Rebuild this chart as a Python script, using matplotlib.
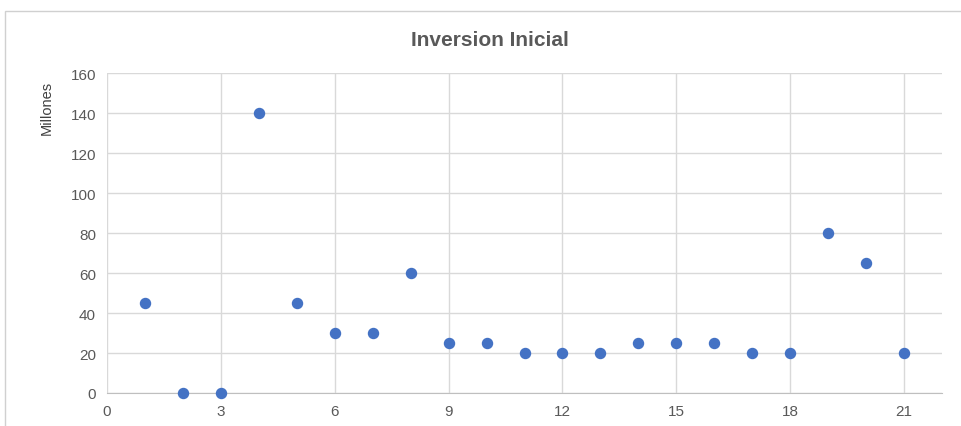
import numpy as np
import matplotlib.pyplot as plt
from matplotlib.patches import Rectangle

periodo = [1, 2, 3, 4, 5, 6, 7, 8, 9, 10, 11, 12, 13, 14, 15, 16, 17, 18, 19, 20, 21]
inversion = [45, 0, 0, 140, 45, 30, 30, 60, 25, 25, 20, 20, 20, 25, 25, 25, 20, 20, 80, 65, 20]
x_ticks = [0, 3, 6, 9, 12, 15, 18, 21]
y_ticks = [0, 20, 40, 60, 80, 100, 120, 140, 160]

plt.rcParams['font.family'] = ['Liberation Sans', 'DejaVu Sans']

fig = plt.figure(figsize=(9.61, 4.27), dpi=100)
# marco del grafico
fig.patches.append(Rectangle((5 / 961, -0.01), 1.0, 1 - 12 / 427 + 0.01, transform=fig.transFigure,
                             fill=False, edgecolor='#d0d0d0', linewidth=1))

ax = fig.add_axes([107 / 961, 1 - 394 / 427, (942 - 107) / 961, (394 - 74) / 427])
ax.scatter(periodo, inversion, s=52, color='#4472C4', zorder=3, clip_on=False)

ax.set_xlim(0, 22)
ax.set_ylim(0, 160)
ax.set_xticks(x_ticks)
ax.set_yticks(y_ticks)
ax.grid(True, color='#d9d9d9', linewidth=1)
ax.set_axisbelow(True)
for s in ['top', 'right', 'left']:
    ax.spines[s].set_visible(False)
ax.spines['bottom'].set_color('#bfbfbf')
ax.tick_params(length=0, labelsize=11, colors='#595959', pad=8)

fig.text(47 / 961, 1 - 108 / 427, 'Millones', rotation=90, ha='center', va='center',
         fontsize=10.5, color='#404040')
fig.text(0.51, 1 - 40 / 427, 'Inversion Inicial', ha='center', va='center',
         fontsize=15, fontweight='bold', color='#595959')

fig.savefig('out.png', dpi=100)
